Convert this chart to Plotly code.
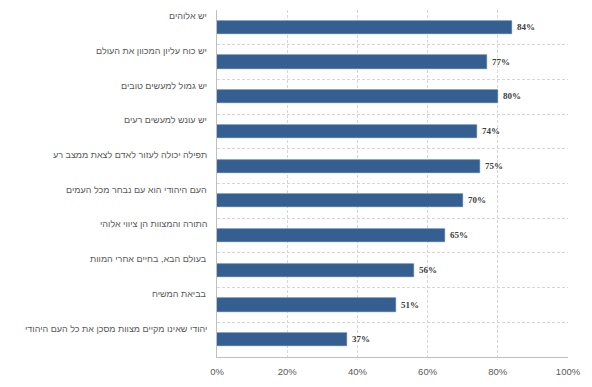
import plotly.graph_objects as go

categories = [
    "יש אלוהים",
    "יש כוח עליון המכוון את העולם",
    "יש גמול למעשים טובים",
    "יש עונש למעשים רעים",
    "תפילה יכולה לעזור לאדם לצאת ממצב רע",
    "העם היהודי הוא עם נבחר מכל העמים",
    "התורה והמצוות הן ציווי אלוהי",
    "בעולם הבא, בחיים אחרי המוות",
    "בביאת המשיח",
    "יהודי שאינו מקיים מצוות מסכן את כל העם היהודי",
]
values = [84, 77, 80, 74, 75, 70, 65, 56, 51, 37]
x_ticks = [0, 20, 40, 60, 80, 100]
x_tick_labels = ["0%", "20%", "40%", "60%", "80%", "100%"]

positions = list(range(len(categories)))

fig = go.Figure()
fig.add_trace(go.Bar(
    x=values,
    y=positions,
    orientation="h",
    width=0.38,
    marker=dict(color="#365F91", line=dict(color="#4A72A6", width=0.6)),
    text=[f"\u00a0<b>{v}%</b>" for v in values],
    textposition="outside",
    textfont=dict(family="Liberation Serif, DejaVu Serif", size=9, color="#404040"),
    cliponaxis=False,
    hoverinfo="skip",
))

annotations = []
for i, c in enumerate(categories):
    annotations.append(dict(
        x=0, xref="paper", y=i - 0.32, yref="y",
        text=c, showarrow=False, xanchor="right", yanchor="middle",
        xshift=-8,
        font=dict(family="Liberation Sans, DejaVu Sans", size=9, color="#595959"),
    ))

fig.update_layout(
    width=584, height=379,
    margin=dict(l=209, r=24, t=2, b=30),
    paper_bgcolor="white", plot_bgcolor="white",
    showlegend=False,
    bargap=0,
    annotations=annotations,
    xaxis=dict(
        range=[0, 100],
        tickvals=x_ticks, ticktext=x_tick_labels,
        showgrid=True, gridcolor="#D6D6D6", griddash="3px,2px", gridwidth=1,
        showline=True, linecolor="#BFBFBF", linewidth=1,
        zeroline=False,
        tickfont=dict(family="Liberation Sans, DejaVu Sans", size=9.5, color="#595959"),
        ticks="", ticklabelstandoff=6,
        fixedrange=True,
    ),
    yaxis=dict(
        range=[len(categories) - 0.5, -0.5],
        tickvals=[p - 0.5 for p in positions],
        showticklabels=False,
        showgrid=True, gridcolor="#D6D6D6", griddash="3px,2px", gridwidth=1,
        showline=True, linecolor="#BFBFBF", linewidth=1,
        zeroline=False, ticks="",
        fixedrange=True,
    ),
)

fig.write_html("out.html")
